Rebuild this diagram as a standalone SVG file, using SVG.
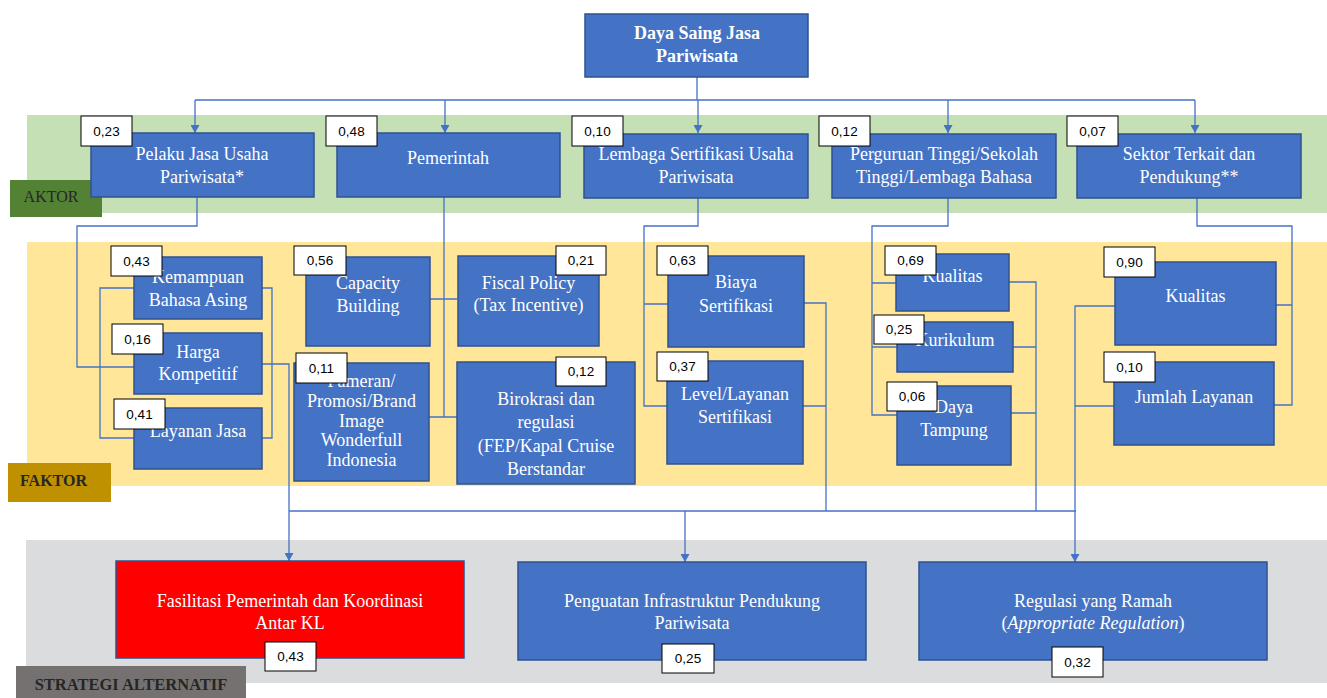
<svg xmlns="http://www.w3.org/2000/svg" width="1327" height="698" viewBox="0 0 1327 698">
<style>
.n{fill:#4472C4;stroke:#2F528F;stroke-width:1.5}
.t{font-family:"Liberation Serif","Times New Roman",serif;font-size:18px;fill:#fff;text-anchor:middle}
.lb rect{fill:#fff;stroke:#000;stroke-width:1}
.lb text{font-family:"Liberation Sans",Arial,sans-serif;font-size:13.5px;fill:#000;text-anchor:middle}
.c{fill:none;stroke:#4472C4;stroke-width:1.3}
.bl{font-family:"Liberation Serif","Times New Roman",serif;fill:#262626}
</style>
<defs>
<marker id="ah" markerWidth="8" markerHeight="9" refX="8" refY="4.5" orient="auto" markerUnits="userSpaceOnUse"><path d="M0,0 L8,4.5 L0,9 z" fill="#4472C4"/></marker>
</defs>

<g id="bands">
<rect x="27" y="115" width="1300" height="98" fill="#C5E0B4"/>
<rect x="10" y="180" width="92" height="37" fill="#548235"/>
<text class="bl" x="51" y="202" font-size="16" text-anchor="middle">AKTOR</text>
<rect x="27" y="242" width="1300" height="244" fill="#FFE699"/>
<rect x="8" y="463" width="103" height="39" fill="#BF9000"/>
<text class="bl" x="20" y="486" font-size="16" font-weight="bold">FAKTOR</text>
<rect x="26" y="540" width="1301" height="143" fill="#DBDCDE"/>
<rect x="16" y="666" width="230" height="32" fill="#767171"/>
<text class="bl" x="131" y="690" font-size="16.5" font-weight="bold" text-anchor="middle">STRATEGI ALTERNATIF</text>
</g>

<g id="connectors">
<path class="c" d="M697,77 V100 M195,100 H1195"/>
<path class="c" d="M195,100 V133" marker-end="url(#ah)"/>
<path class="c" d="M445,100 V133" marker-end="url(#ah)"/>
<path class="c" d="M698,100 V133" marker-end="url(#ah)"/>
<path class="c" d="M948,100 V133" marker-end="url(#ah)"/>
<path class="c" d="M1195,100 V133" marker-end="url(#ah)"/>
<path class="c" d="M197,197 V226 H77 V367 H134 M134,288 H100 V438 H134 M262,288 H272 V438 H262"/>
<path class="c" d="M262,364 H289 V561" marker-end="url(#ah)"/>
<path class="c" d="M444,197 V417 M430,299 H457 M429,417 H457"/>
<path class="c" d="M698,198 V226 H644 V406 H667 M644,304 H668 M804,303 H826 V511 M803,406 H826"/>
<path class="c" d="M948,198 V226 H872 V415 H897 M872,283 H896 M872,347 H897 M1009,282 H1036 V511 M1013,347 H1036 M1011,413 H1036"/>
<path class="c" d="M1197,198 V226 H1292 V405 H1274 M1276,305 H1292 M1114,406 H1075"/>
<path class="c" d="M1115,306 H1075 V562" marker-end="url(#ah)"/>
<path class="c" d="M289,511 H1076"/>
<path class="c" d="M685,511 V562" marker-end="url(#ah)"/>
</g>

<g id="goal">
<rect class="n" x="585" y="14" width="223" height="63"/>
<text class="t" x="697" y="39" font-weight="bold">Daya Saing Jasa</text>
<text class="t" x="697" y="62" font-weight="bold">Pariwisata</text>
</g>

<g id="pelaku">
<rect class="n" x="91" y="133" width="223" height="64"/>
<text class="t" x="202" y="160">Pelaku Jasa Usaha</text>
<text class="t" x="202" y="183">Pariwisata*</text>
<g class="lb"><rect x="81" y="116" width="51" height="30"/><text x="106.5" y="136">0,23</text></g>
</g>
<g id="pemerintah">
<rect class="n" x="337" y="133" width="223" height="64"/>
<text class="t" x="448" y="164">Pemerintah</text>
<g class="lb"><rect x="326" y="116" width="51" height="30"/><text x="351.5" y="136">0,48</text></g>
</g>
<g id="lembaga">
<rect class="n" x="584" y="134" width="224" height="64"/>
<text class="t" x="696" y="160">Lembaga Sertifikasi Usaha</text>
<text class="t" x="696" y="183">Pariwisata</text>
<g class="lb"><rect x="572" y="116" width="51" height="30"/><text x="597.5" y="136">0,10</text></g>
</g>
<g id="perguruan">
<rect class="n" x="832" y="134" width="224" height="64"/>
<text class="t" x="944" y="160">Perguruan Tinggi/Sekolah</text>
<text class="t" x="944" y="183">Tinggi/Lembaga Bahasa</text>
<g class="lb"><rect x="819" y="116" width="51" height="30"/><text x="844.5" y="136">0,12</text></g>
</g>
<g id="sektor">
<rect class="n" x="1077" y="134" width="224" height="64"/>
<text class="t" x="1189" y="160">Sektor Terkait dan</text>
<text class="t" x="1189" y="183">Pendukung**</text>
<g class="lb"><rect x="1067" y="116" width="51" height="30"/><text x="1092.5" y="136">0,07</text></g>
</g>

<g id="kemampuan">
<rect class="n" x="134" y="257" width="128" height="62"/>
<text class="t" x="198" y="283">Kemampuan</text>
<text class="t" x="198" y="306">Bahasa Asing</text>
<g class="lb"><rect x="111" y="246" width="51" height="30"/><text x="136.5" y="266">0,43</text></g>
</g>
<g id="harga">
<rect class="n" x="134" y="333" width="128" height="61"/>
<text class="t" x="198" y="358">Harga</text>
<text class="t" x="198" y="380">Kompetitif</text>
<g class="lb"><rect x="112" y="324" width="51" height="30"/><text x="137.5" y="344">0,16</text></g>
</g>
<g id="layanan-jasa">
<rect class="n" x="134" y="408" width="128" height="61"/>
<text class="t" x="198" y="437">Layanan Jasa</text>
<g class="lb"><rect x="114" y="399" width="51" height="30"/><text x="139.5" y="419">0,41</text></g>
</g>

<g id="capacity">
<rect class="n" x="306" y="257" width="124" height="89"/>
<text class="t" x="368" y="289">Capacity</text>
<text class="t" x="368" y="312">Building</text>
<g class="lb"><rect x="294" y="246" width="52" height="29"/><text x="320" y="265">0,56</text></g>
</g>
<g id="pameran">
<rect class="n" x="294" y="363" width="135" height="118"/>
<text class="t" x="361.5" y="387" font-size="16.5">Pameran/</text>
<text class="t" x="361.5" y="407" font-size="16.5">Promosi/Brand</text>
<text class="t" x="361.5" y="427" font-size="16.5">Image</text>
<text class="t" x="361.5" y="446" font-size="16.5">Wonderfull</text>
<text class="t" x="361.5" y="466" font-size="16.5">Indonesia</text>
<g class="lb"><rect x="296" y="353" width="51" height="30"/><text x="321.5" y="373">0,11</text></g>
</g>
<g id="fiscal">
<rect class="n" x="458" y="256" width="141" height="90"/>
<text class="t" x="528.5" y="289">Fiscal Policy</text>
<text class="t" x="528.5" y="311">(Tax Incentive)</text>
<g class="lb"><rect x="556" y="246" width="50" height="29"/><text x="581" y="265">0,21</text></g>
</g>
<g id="birokrasi">
<rect class="n" x="457" y="362" width="178" height="122"/>
<text class="t" x="546" y="405">Birokrasi dan</text>
<text class="t" x="546" y="428">regulasi</text>
<text class="t" x="546" y="452">(FEP/Kapal Cruise</text>
<text class="t" x="546" y="475">Berstandar</text>
<g class="lb"><rect x="556" y="357" width="50" height="29"/><text x="581" y="376">0,12</text></g>
</g>
<g id="biaya">
<rect class="n" x="668" y="256" width="136" height="91"/>
<text class="t" x="736" y="288">Biaya</text>
<text class="t" x="736" y="312">Sertifikasi</text>
<g class="lb"><rect x="657" y="246" width="51" height="29"/><text x="682.5" y="265">0,63</text></g>
</g>
<g id="level">
<rect class="n" x="667" y="361" width="136" height="103"/>
<text class="t" x="735" y="400">Level/Layanan</text>
<text class="t" x="735" y="423">Sertifikasi</text>
<g class="lb"><rect x="657" y="352" width="51" height="29"/><text x="682.5" y="371">0,37</text></g>
</g>
<g id="kualitas-pt">
<rect class="n" x="896" y="254" width="113" height="57"/>
<text class="t" x="952.5" y="282">Kualitas</text>
<g class="lb"><rect x="885" y="246" width="51" height="29"/><text x="910.5" y="265">0,69</text></g>
</g>
<g id="kurikulum">
<rect class="n" x="897" y="322" width="116" height="50"/>
<text class="t" x="955" y="346">Kurikulum</text>
<g class="lb"><rect x="874" y="315" width="50" height="29"/><text x="899" y="334">0,25</text></g>
</g>
<g id="daya-tampung">
<rect class="n" x="897" y="386" width="114" height="79"/>
<text class="t" x="954" y="413">Daya</text>
<text class="t" x="954" y="436">Tampung</text>
<g class="lb"><rect x="887" y="382" width="50" height="29"/><text x="912" y="401">0,06</text></g>
</g>
<g id="kualitas-sektor">
<rect class="n" x="1115" y="262" width="161" height="83"/>
<text class="t" x="1195.5" y="302">Kualitas</text>
<g class="lb"><rect x="1104" y="247" width="51" height="30"/><text x="1129.5" y="267">0,90</text></g>
</g>
<g id="jumlah-layanan">
<rect class="n" x="1114" y="362" width="160" height="83"/>
<text class="t" x="1194" y="403">Jumlah Layanan</text>
<g class="lb"><rect x="1104" y="352" width="51" height="30"/><text x="1129.5" y="372">0,10</text></g>
</g>

<g id="fasilitasi">
<rect x="116" y="561" width="348" height="97" fill="#FF0000" stroke="#2F528F" stroke-width="1.5"/>
<text class="t" x="290" y="607">Fasilitasi Pemerintah dan Koordinasi</text>
<text class="t" x="290" y="629">Antar KL</text>
<g class="lb"><rect x="265" y="642" width="51" height="29"/><text x="290.5" y="661">0,43</text></g>
</g>
<g id="penguatan">
<rect class="n" x="518" y="562" width="348" height="98"/>
<text class="t" x="692" y="607">Penguatan Infrastruktur Pendukung</text>
<text class="t" x="692" y="629">Pariwisata</text>
<g class="lb"><rect x="662" y="644" width="52" height="29"/><text x="688" y="663">0,25</text></g>
</g>
<g id="regulasi">
<rect class="n" x="919" y="562" width="348" height="98"/>
<text class="t" x="1093" y="607">Regulasi yang Ramah</text>
<text class="t" x="1093" y="629">(<tspan font-style="italic">Appropriate Regulation</tspan>)</text>
<g class="lb"><rect x="1052" y="647" width="51" height="30"/><text x="1077.5" y="667">0,32</text></g>
</g>
</svg>
